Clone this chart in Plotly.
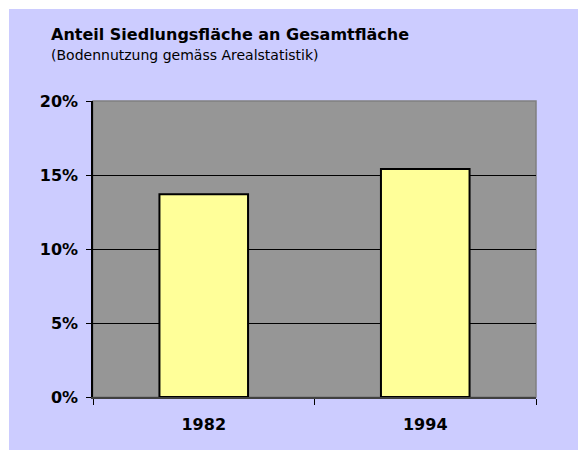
import plotly.graph_objects as go

categories = ["1982", "1994"]
values = [13.7, 15.4]
y_ticks = [0, 5, 10, 15, 20]
y_tick_labels = ["0%", "5%", "10%", "15%", "20%"]
title_text = "Anteil Siedlungsfläche an Gesamtfläche"
subtitle_text = "(Bodennutzung gemäss Arealstatistik)"

W, H = 569, 441
L, R, T, B = 84, 42, 92, 53
plot_h = H - T - B

def py(y_px):
    return (H - B - y_px) / plot_h

FONT = "DejaVu Sans"

fig = go.Figure(go.Bar(
    x=categories, y=values, width=0.4,
    marker=dict(color="#FFFF99", line=dict(color="black", width=2)),
    hoverinfo="skip",
))

fig.update_layout(
    width=W, height=H,
    margin=dict(l=L, r=R, t=T, b=B),
    paper_bgcolor="#CCCCFF",
    plot_bgcolor="#969696",
    showlegend=False,
    font=dict(family=FONT, color="black"),
    bargap=0.6,
)

fig.update_yaxes(
    range=[0, 20], tickvals=y_ticks, ticktext=y_tick_labels,
    showgrid=True, gridcolor="black", gridwidth=1,
    zeroline=False, showline=True, linecolor="black", linewidth=1.5,
    ticks="outside", ticklen=5, tickcolor="black", tickwidth=1,
    tickfont=dict(family=FONT, size=16, color="black", weight="bold"),
    ticklabelstandoff=5,
)
fig.update_xaxes(
    showgrid=False, zeroline=False, showline=True, linecolor="#404040", linewidth=2,
    ticks="outside", ticklen=6, tickcolor="black", tickwidth=1, tickson="boundaries",
    tickfont=dict(family=FONT, size=16, color="black", weight="bold"),
    ticklabelstandoff=12,
)

fig.add_shape(type="rect", xref="paper", yref="paper", x0=0, x1=1, y0=0, y1=1,
              line=dict(color="#808080", width=1.5), layer="below")

fig.add_annotation(text=title_text, xref="paper", yref="paper",
                   x=(40 - L) / (W - L - R), y=py(25), xanchor="left", yanchor="middle",
                   showarrow=False, font=dict(family=FONT, size=16, weight="bold", color="black"))
fig.add_annotation(text=subtitle_text, xref="paper", yref="paper",
                   x=(40 - L) / (W - L - R), y=py(46), xanchor="left", yanchor="middle",
                   showarrow=False, font=dict(family=FONT, size=14, color="black"))

post = ("document.documentElement.style.overflow='hidden';"
        "document.body.style.overflow='hidden';"
        "document.body.style.margin='9px 0 0 9px';"
        "document.body.style.background='#FFFFFF';")

fig.write_html("out.html", post_script=post)
